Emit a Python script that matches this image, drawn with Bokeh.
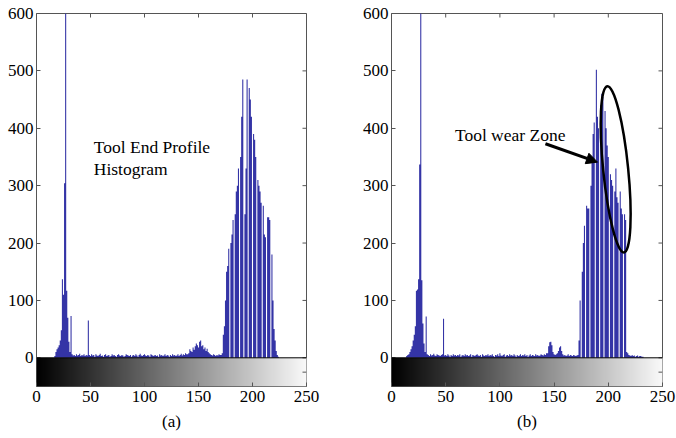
import numpy as np
from bokeh.plotting import figure
from bokeh.layouts import row
from bokeh.models import Range1d, FixedTicker, Span, Arrow, NormalHead
from bokeh.embed import file_html
from bokeh.resources import INLINE
from bokeh.core.properties import value

# ---------------- data ----------------
bins = list(range(256))

counts_a = [
    0, 0, 0, 0, 0, 0, 0, 0, 0, 0,
    0, 0, 0, 0, 0, 0, 0, 3, 10, 15,
    18, 22, 30, 48, 137, 110, 304, 650, 117, 70,
    28, 10, 73, 6, 4, 5, 3, 6, 4, 5,
    7, 3, 5, 4, 6, 3, 5, 4, 65, 5,
    3, 6, 4, 5, 2, 6, 4, 3, 5, 7,
    3, 4, 2, 5, 6, 3, 4, 5, 2, 3,
    6, 4, 5, 3, 2, 5, 6, 4, 3, 5,
    4, 2, 3, 6, 5, 4, 3, 5, 2, 4,
    5, 3, 6, 4, 2, 5, 7, 4, 3, 5,
    6, 4, 3, 5, 4, 2, 6, 5, 3, 4,
    5, 3, 4, 2, 6, 4, 5, 3, 4, 6,
    3, 5, 4, 2, 5, 3, 6, 4, 5, 3,
    4, 6, 3, 5, 7, 4, 6, 5, 8, 6,
    6, 8, 15, 12, 10, 18, 14, 20, 25, 22,
    18, 28, 30, 20, 22, 15, 18, 12, 16, 10,
    8, 6, 5, 4, 6, 5, 3, 5, 4, 6,
    5, 5, 8, 40, 55, 100, 150, 160, 190, 0,
    200, 215, 240, 0, 250, 290, 300, 330, 0, 350,
    420, 485, 0, 250, 330, 485, 0, 470, 450, 420,
    0, 390, 380, 350, 0, 310, 300, 290, 270, 0,
    265, 215, 210, 0, 245, 245, 240, 0, 180, 100,
    50, 30, 12, 5, 2, 0, 0, 0, 0, 0,
    0, 0, 0, 0, 0, 0, 0, 0, 0, 0,
    0, 0, 0, 0, 0, 0, 0, 0, 0, 0,
    0, 0, 0, 0, 0, 0,
]

counts_b = [
    0, 0, 0, 0, 0, 0, 0, 0, 0, 0,
    0, 0, 0, 0, 3, 5, 6, 10, 15, 20,
    30, 40, 55, 117, 119, 137, 337, 650, 135, 60,
    25, 10, 72, 6, 5, 3, 6, 4, 5, 7,
    4, 3, 6, 5, 4, 3, 5, 6, 68, 4,
    5, 3, 6, 4, 2, 5, 3, 6, 4, 5,
    3, 5, 4, 6, 2, 4, 5, 3, 6, 4,
    5, 3, 4, 6, 2, 5, 4, 3, 5, 6,
    4, 3, 5, 2, 6, 4, 3, 5, 4, 6,
    3, 5, 4, 6, 3, 2, 5, 4, 6, 3,
    8, 4, 3, 5, 6, 2, 4, 5, 3, 6,
    4, 5, 3, 6, 4, 2, 5, 3, 4, 6,
    3, 5, 4, 6, 3, 5, 2, 4, 6, 3,
    5, 4, 3, 6, 4, 5, 3, 4, 6, 5,
    4, 6, 5, 8, 8, 20, 27, 28, 22, 10,
    6, 5, 6, 8, 12, 18, 20, 12, 6, 4,
    5, 3, 4, 6, 3, 5, 4, 3, 5, 4,
    3, 4, 5, 30, 100, 0, 150, 200, 230, 0,
    265, 260, 260, 0, 300, 350, 390, 410, 0, 502,
    420, 400, 0, 440, 460, 455, 0, 430, 400, 370,
    350, 0, 320, 310, 300, 0, 290, 330, 280, 270,
    0, 290, 260, 250, 0, 250, 240, 10, 8, 5,
    4, 3, 5, 3, 4, 2, 3, 4, 2, 3,
    3, 2, 2, 0, 0, 0, 0, 0, 0, 0,
    0, 0, 0, 0, 0, 0, 0, 0, 0, 0,
    0, 0, 0, 0, 0, 0,
]

x_ticks = [0, 50, 100, 150, 200, 250]
y_ticks = [0, 100, 200, 300, 400, 500, 600]
right_ticks = [-25, 0, 100, 200, 300, 400, 500, 600]
panel_labels = ["(a)", "(b)"]

note_a_lines = ["Tool End Profile", "Histogram"]
note_a_x = [53, 53]
note_a_y = [367, 329]
note_b_text = ["Tool wear Zone"]
note_b_x = [58.5]
note_b_y = [388]
arrow_from = (142, 373)
arrow_to = (190, 341)
zone_center = (206.8, 328.5)

# ---------------- style ----------------
BAR = "#3434a6"
FRAME = "#555555"
FONT = "Liberation Serif"
X0, X1, Y0, Y1 = 0, 250, -50, 600

gray = np.arange(256, dtype=np.uint8)
img = np.zeros((1, 256), dtype=np.uint32)
view = img.view(dtype=np.uint8).reshape((1, 256, 4))
view[0, :, 0] = gray
view[0, :, 1] = gray
view[0, :, 2] = gray
view[0, :, 3] = 255


def style_axis(ax):
    ax.major_tick_in = 4
    ax.major_tick_out = 0
    ax.minor_tick_in = 0
    ax.minor_tick_out = 0
    ax.axis_line_color = None
    ax.major_tick_line_color = FRAME
    ax.major_label_text_font = FONT
    ax.major_label_text_font_size = "17px"
    ax.major_label_text_color = "black"
    ax.major_label_standoff = 4


def make_panel(counts, label, width, left, right):
    p = figure(width=width, height=436,
               x_range=Range1d(X0, X1), y_range=Range1d(Y0, Y1),
               output_backend="svg", toolbar_location=None,
               min_border_left=left, min_border_right=right,
               min_border_top=13, min_border_bottom=50)
    p.grid.visible = False
    p.outline_line_color = FRAME
    p.outline_line_width = 1
    p.background_fill_color = "white"
    p.border_fill_color = "white"

    p.image_rgba(image=[img], x=0, y=Y0, dw=256, dh=-Y0)
    p.varea_step(x=bins, y1=[0] * len(bins), y2=counts,
                 step_mode="center", fill_color=BAR)
    p.add_layout(Span(location=0, dimension="width",
                      line_color="black", line_width=1))

    xa = p.xaxis[0]
    xa.ticker = FixedTicker(ticks=x_ticks)
    style_axis(xa)
    xa.axis_label = label
    xa.axis_label_text_font = FONT
    xa.axis_label_text_font_size = "17px"
    xa.axis_label_text_font_style = "normal"
    xa.axis_label_text_color = "black"
    xa.axis_label_standoff = 7

    ya = p.yaxis[0]
    ya.ticker = FixedTicker(ticks=y_ticks)
    style_axis(ya)
    ya.major_label_standoff = 3

    # inward ticks on the top and right edges of the box
    p.ray(x=x_ticks, y=[Y1] * len(x_ticks), length=4, length_units="screen",
          angle=-np.pi / 2, line_color=FRAME, line_width=1)
    p.ray(x=[X1] * len(right_ticks), y=right_ticks, length=4,
          length_units="screen", angle=np.pi, line_color=FRAME, line_width=1)
    return p


pa = make_panel(counts_a, panel_labels[0], 338, 36, 32)
pa.text(x=note_a_x, y=note_a_y, text=note_a_lines,
        text_font=value(FONT), text_font_size=value("17.5px"),
        text_baseline="middle", text_align="left", text_color="black")

pb = make_panel(counts_b, panel_labels[1], 338, 53, 14)
pb.text(x=note_b_x, y=note_b_y, text=note_b_text,
        text_font=value(FONT), text_font_size=value("17.5px"),
        text_baseline="middle", text_align="left", text_color="black")
pb.add_layout(Arrow(end=NormalHead(size=11, fill_color="black", line_color="black"),
                    x_start=arrow_from[0], y_start=arrow_from[1],
                    x_end=arrow_to[0], y_end=arrow_to[1],
                    line_color="black", line_width=3))
pb.ellipse(x=[zone_center[0]], y=[zone_center[1]], width=[25], height=[167],
           width_units="screen", height_units="screen", angle=0.1,
           fill_color=None, line_color="black", line_width=2.5)

layout = row(pa, pb)
open("out.html", "w").write(file_html(layout, INLINE))
